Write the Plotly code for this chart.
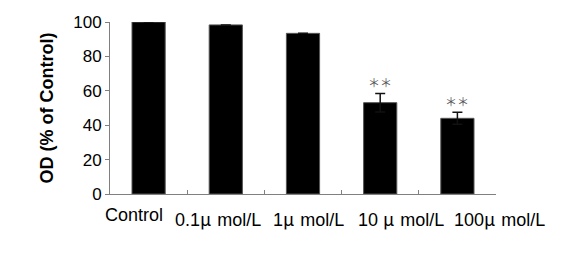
import plotly.graph_objects as go

categories = ["Control", "0.1μ mol/L", "1μ mol/L", "10 μ mol/L", "100μ mol/L"]
values = [100, 98.3, 93.4, 53.1, 44.0]
errors = [0, 0, 0, 5.4, 3.5]
marks = ["", "", "", "＊＊", "＊＊"]
y_ticks = [0, 20, 40, 60, 80, 100]

# label horizontal offsets (styling only), in px, mimicking the original's run-on label layout
label_shift = [-15, -8, 5, 21, 42]

fig = go.Figure()
fig.add_trace(go.Bar(
    x=categories, y=values,
    marker=dict(color="black", line=dict(color="#555555", width=1)),
    error_y=dict(type="data", array=errors, visible=True, color="#111111", thickness=1.5, width=5),
))
for c, v, e, m in zip(categories, values, errors, marks):
    if m:
        fig.add_annotation(x=c, y=v + e, text=m, showarrow=False, yanchor="bottom", yshift=0,
                           font=dict(family="Noto Sans CJK SC", size=12, color="#555555"))


def fmt(lbl):
    return lbl.replace("μ", '<span style="font-family:Noto Sans CJK JP;letter-spacing:1px">μ</span>')


for c, s in zip(categories, label_shift):
    fig.add_annotation(x=c, y=0, xref="x", yref="y", text=fmt(c), showarrow=False,
                       yanchor="top", yshift=-9, xshift=s,
                       font=dict(family="Liberation Sans, Arial", size=18, color="black"))

fig.update_layout(
    width=582, height=253,
    margin=dict(l=110, r=86, t=22, b=59),
    paper_bgcolor="white", plot_bgcolor="white",
    bargap=0.57, showlegend=False,
    font=dict(family="Liberation Sans, Arial", size=13, color="black"),
)
fig.update_xaxes(
    type="category", categoryorder="array", categoryarray=categories,
    range=[-0.5, len(categories) - 0.5], autorange=False,
    showline=True, linecolor="#808080", linewidth=1,
    ticks="inside", tickson="boundaries", ticklen=4, tickcolor="#808080",
    showticklabels=False, showgrid=False,
)
fig.update_yaxes(
    range=[0, 100], tickvals=y_ticks, showline=True, linecolor="#808080",
    linewidth=1, ticks="outside", ticklen=4, tickcolor="#808080", showgrid=False,
    zeroline=False, tickfont=dict(size=17),
    title=dict(text="<b>OD (% of Control)</b>", font=dict(size=18), standoff=14),
)
fig.write_html("out.html")
